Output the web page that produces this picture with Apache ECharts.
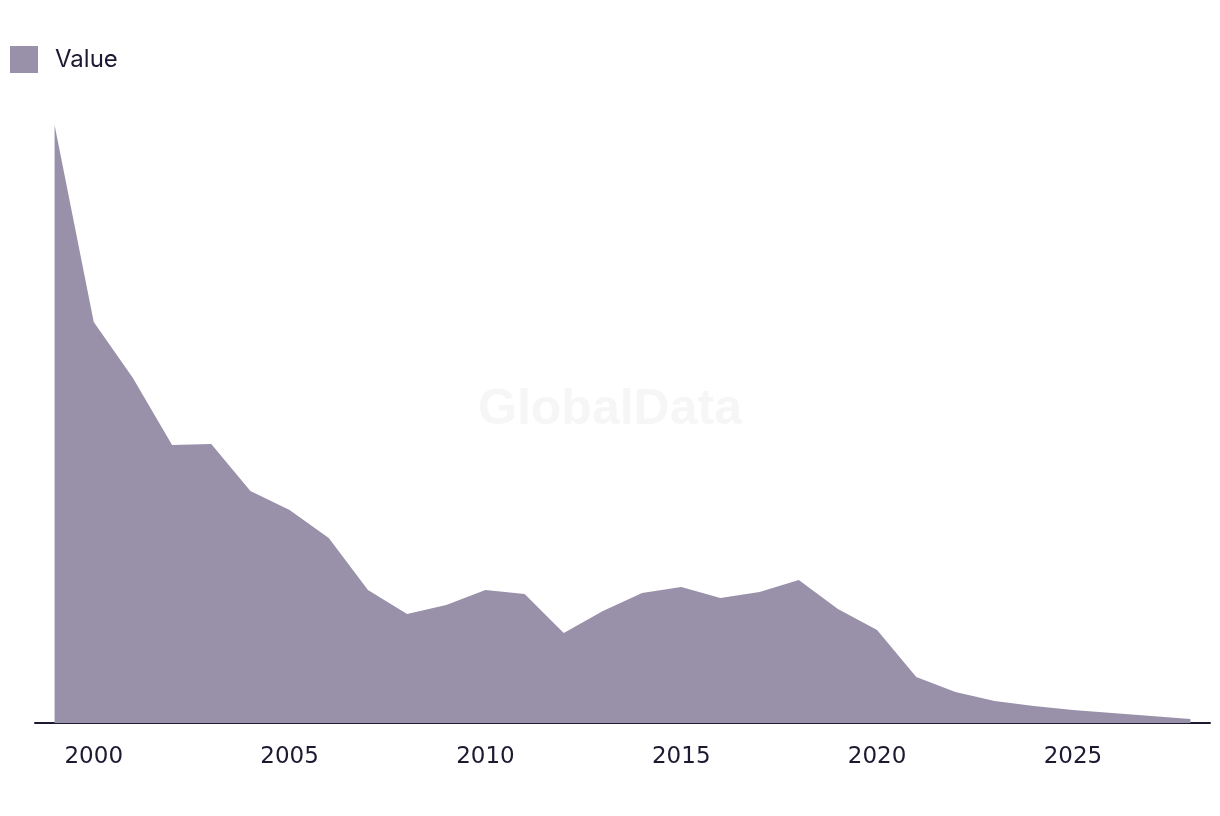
<!DOCTYPE html>
<html>
<head>
<meta charset="utf-8">
<script src="https://cdn.jsdelivr.net/npm/echarts@6/dist/echarts.min.js"></script>
<style>
html,body{margin:0;padding:0;background:#fff;}
#chart{width:1220px;height:816px;}
</style>
</head>
<body>
<div id="chart"></div>
<script>
const years = ['1999','2000','2001','2002','2003','2004','2005','2006','2007','2008','2009','2010','2011','2012','2013','2014','2015','2016','2017','2018','2019','2020','2021','2022','2023','2024','2025','2026','2027','2028'];
const values = [598,401,345,278,279,232,213,185,133,109,118,133,129,90,112,130,136,125,131,143,114,93,46,31,22,17,13,10,7,4];
const shownLabels = ['2000','2005','2010','2015','2020','2025'];
const seriesName = 'Value';

const chart = echarts.init(document.getElementById('chart'), null, {renderer:'canvas'});
chart.setOption({
  animation:false,
  backgroundColor:'#ffffff',
  graphic:[{
    type:'text', left:'center', top:385, z:-10,
    style:{text:'GlobalData', fill:'#f6f6f6', font:'bold 50px "Liberation Sans", Arial, sans-serif'}
  }],
  legend:{
    left:5, top:41, itemWidth:28, itemHeight:27, icon:'rect',
    data:[seriesName],
    textStyle:{fontFamily:'Inter', fontSize:24, color:'#1c1a30', padding:[0,0,0,12]}
  },
  grid:{left:35, right:10, top:123, bottom:93, containLabel:false},
  xAxis:{
    type:'category', data:years, boundaryGap:true,
    axisLine:{show:true, lineStyle:{color:'#1c1a30', width:2}},
    axisTick:{show:false},
    axisLabel:{
      interval:0, margin:23, fontFamily:'"DejaVu Sans"', fontSize:23, color:'#1c1a30',
      formatter:(v)=> shownLabels.includes(v) ? v : ''
    },
    splitLine:{show:false}
  },
  yAxis:{type:'value', min:0, max:600, show:false, splitLine:{show:false}},
  series:[{
    name:seriesName, type:'line', data:values, symbol:'none',
    lineStyle:{width:0, color:'#9990a9'},
    itemStyle:{color:'#9990a9'},
    areaStyle:{color:'#9990a9', opacity:1}
  }]
});
</script>
</body>
</html>
